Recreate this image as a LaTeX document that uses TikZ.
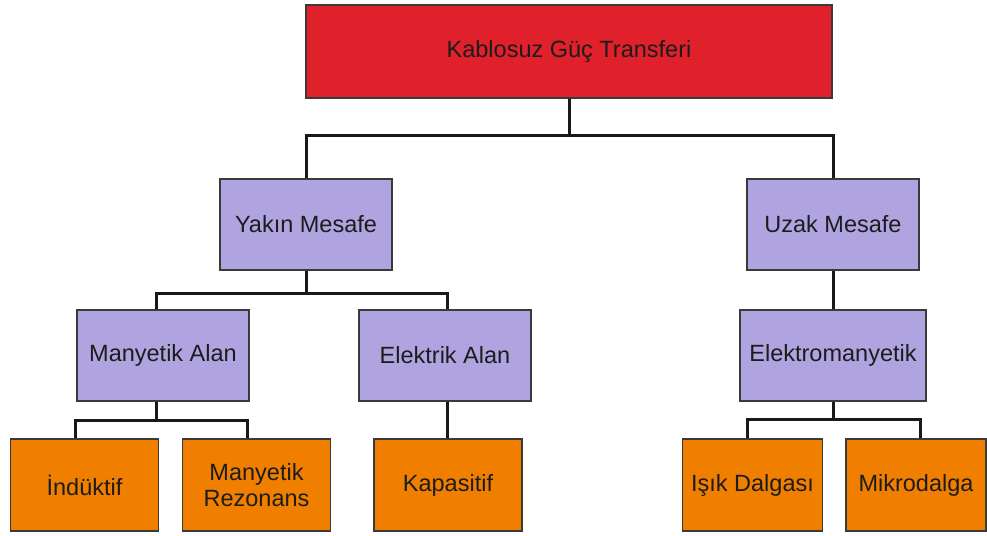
\documentclass[tikz,border=0pt]{standalone}
\usepackage{fontspec}
\setmainfont{Liberation Sans}
\definecolor{rootred}{HTML}{E0202B}
\definecolor{midviolet}{HTML}{B0A4E0}
\definecolor{leaforange}{HTML}{F07F00}
\definecolor{edgegray}{HTML}{3A3A3A}
\definecolor{txt}{HTML}{1C1C1C}
\begin{document}
\begin{tikzpicture}[x=1pt,y=-1pt,
  box/.style={draw=edgegray,line width=1.5pt,text=txt,inner sep=0pt,align=center,
    font=\fontsize{23.5}{26.5}\selectfont},
  rootbox/.style={box,fill=rootred,minimum width=526pt,minimum height=93pt},
  midbox/.style={box,fill=midviolet,minimum width=172pt,minimum height=91pt},
  leafbox/.style={box,fill=leaforange,minimum width=148pt,minimum height=92pt},
  conn/.style={draw=black!90,line width=3pt}]
\useasboundingbox (0,0) rectangle (987,535);

% tree nodes
\node[rootbox] (root) at (569,51.5) {Kablosuz Güç Transferi};
\node[midbox] (near) at (306,224.5) {Yakın Mesafe};
\node[midbox] (far) at (833,224.5) {Uzak Mesafe};
\node[midbox] (mag) at (163,355.5) {Manyetik Alan};
\node[midbox] (elec) at (445,355.5) {Elektrik Alan};
\node[midbox,minimum width=186pt] (em) at (833,355.5) {Elektromanyetik};
\node[leafbox] (ind) at (84.5,485) {İndüktif};
\node[leafbox] (res) at (256.5,485) {Manyetik\\Rezonans};
\node[leafbox] (cap) at (448,485) {Kapasitif};
\node[leafbox,minimum width=140pt] (light) at (752.5,485) {Işık Dalgası};
\node[leafbox,minimum width=140pt] (micro) at (916,485) {Mikrodalga};

% connectors
\draw[conn] (root.south) -- ++(0,36.5) coordinate (rj);
\draw[conn] (near.north) |- (rj) -| (far.north);

\draw[conn] (near.south) -- ++(0,22.5) coordinate (nj);
\draw[conn] ([xshift=-7pt]mag.north) |- (nj) -| ([xshift=2pt]elec.north);

\draw[conn] ([xshift=-7pt]mag.south) -- ++(0,18.5) coordinate (mj);
\draw[conn] ([xshift=-9.5pt]ind.north) |- (mj) -| ([xshift=-9pt]res.north);

\draw[conn] ([xshift=2pt]elec.south) -- ([xshift=-1pt]cap.north);

\draw[conn] (far.south) -- (em.north);

\draw[conn] (em.south) -- ++(0,17.5) coordinate (ej);
\draw[conn] ([xshift=-5.5pt]light.north) |- (ej) -| ([xshift=4pt]micro.north);
\end{tikzpicture}
\end{document}
